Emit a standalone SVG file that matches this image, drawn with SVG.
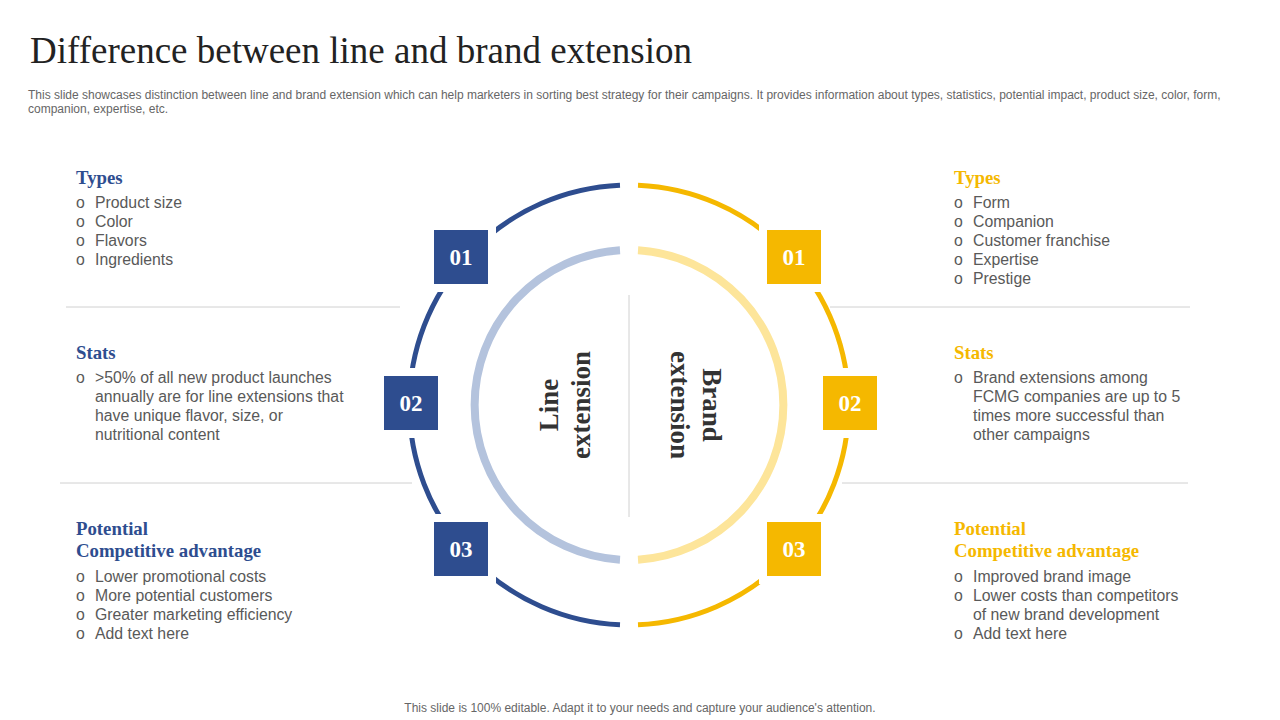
<svg xmlns="http://www.w3.org/2000/svg" width="1280" height="720" viewBox="0 0 1280 720">
<style>
.h{font-family:"Liberation Serif",serif;font-weight:bold;font-size:18.8px}
.b{fill:#2e4d8f}.y{fill:#f5b800}
.t{font-family:"Liberation Sans",Arial,sans-serif;font-size:15.8px;fill:#595959}
.n{font-family:"Liberation Serif",serif;font-weight:bold;font-size:23px;fill:#fff;text-anchor:middle}
.bg{fill:#fff}
.c{font-family:"Liberation Serif",serif;font-weight:bold;font-size:27px;fill:#333;text-anchor:middle}
</style>
<rect width="1280" height="720" fill="#fff"/>
<text x="30" y="63" font-family="Liberation Serif,serif" font-size="37" fill="#222">Difference between line and brand extension</text>
<text font-family="Liberation Sans,Arial,sans-serif" font-size="12" fill="#666"><tspan x="28" y="99">This slide showcases distinction between line and brand extension which can help marketers in sorting best strategy for their campaigns. It provides information about types, statistics, potential impact, product size, color, form,</tspan><tspan x="28" y="113">companion, expertise, etc.</tspan></text>
<g id="connectors" fill="none">
<line x1="66" y1="307" x2="400" y2="307" stroke="#d0d0d0"/>
<line x1="60" y1="483" x2="412" y2="483" stroke="#d0d0d0"/>
<line x1="830" y1="307" x2="1190" y2="307" stroke="#d0d0d0"/>
<line x1="842" y1="483" x2="1188" y2="483" stroke="#d0d0d0"/>
<line x1="629" y1="295" x2="629" y2="517" stroke="#d0d0d0"/>
<path d="M620 185.2 A220 220 0 0 0 620 624.8" stroke="#2e4d8f" stroke-width="5"/>
<path d="M638 185.2 A220 220 0 0 1 638 624.8" stroke="#f5b800" stroke-width="5"/>
<path d="M620 250.3 A155 155 0 0 0 620 559.7" stroke="#b4c3dd" stroke-width="8"/>
<path d="M638 250.3 A155 155 0 0 1 638 559.7" stroke="#fde59a" stroke-width="8"/>
</g>
<g id="center-left"><text class="c" transform="translate(565,405) rotate(-90)"><tspan x="0" y="-7">Line</tspan><tspan x="0" y="25">extension</tspan></text></g>
<g id="center-right"><text class="c" transform="translate(696,405) rotate(90)"><tspan x="0" y="-7">Brand</tspan><tspan x="0" y="25">extension</tspan></text></g>
<g id="b01"><rect class="bg" x="426" y="222" width="70" height="70"/><rect class="b" x="434" y="230" width="54" height="54"/><text class="n" x="461" y="265">01</text></g>
<g id="b02"><rect class="bg" x="376" y="368" width="70" height="70"/><rect class="b" x="384" y="376" width="54" height="54"/><text class="n" x="411" y="411">02</text></g>
<g id="b03"><rect class="bg" x="426" y="514" width="70" height="70"/><rect class="b" x="434" y="522" width="54" height="54"/><text class="n" x="461" y="557">03</text></g>
<g id="y01"><rect class="bg" x="759" y="222" width="70" height="70"/><rect class="y" x="767" y="230" width="54" height="54"/><text class="n" x="794" y="265">01</text></g>
<g id="y02"><rect class="bg" x="815" y="368" width="70" height="70"/><rect class="y" x="823" y="376" width="54" height="54"/><text class="n" x="850" y="411">02</text></g>
<g id="y03"><rect class="bg" x="759" y="514" width="70" height="70"/><rect class="y" x="767" y="522" width="54" height="54"/><text class="n" x="794" y="557">03</text></g>
<g id="left-types"><text class="h b" x="76" y="184">Types</text>
<text class="t"><tspan x="76" y="208">o</tspan><tspan x="95" y="208">Product size</tspan><tspan x="76" y="227">o</tspan><tspan x="95" y="227">Color</tspan><tspan x="76" y="246">o</tspan><tspan x="95" y="246">Flavors</tspan><tspan x="76" y="265">o</tspan><tspan x="95" y="265">Ingredients</tspan></text></g>
<g id="left-stats"><text class="h b" x="76" y="359">Stats</text>
<text class="t"><tspan x="76" y="383">o</tspan><tspan x="95" y="383">&gt;50% of all new product launches</tspan><tspan x="95" y="402">annually  are for line extensions that</tspan><tspan x="95" y="421">have unique flavor, size, or</tspan><tspan x="95" y="440">nutritional content</tspan></text></g>
<g id="left-potential"><text class="h b"><tspan x="76" y="535">Potential</tspan><tspan x="76" y="557">Competitive advantage</tspan></text>
<text class="t"><tspan x="76" y="582">o</tspan><tspan x="95" y="582">Lower promotional costs</tspan><tspan x="76" y="601">o</tspan><tspan x="95" y="601">More potential customers</tspan><tspan x="76" y="620">o</tspan><tspan x="95" y="620">Greater marketing efficiency</tspan><tspan x="76" y="639">o</tspan><tspan x="95" y="639">Add text here</tspan></text></g>
<g id="right-types"><text class="h y" x="954" y="184">Types</text>
<text class="t"><tspan x="954" y="208">o</tspan><tspan x="973" y="208">Form</tspan><tspan x="954" y="227">o</tspan><tspan x="973" y="227">Companion</tspan><tspan x="954" y="246">o</tspan><tspan x="973" y="246">Customer franchise</tspan><tspan x="954" y="265">o</tspan><tspan x="973" y="265">Expertise</tspan><tspan x="954" y="284">o</tspan><tspan x="973" y="284">Prestige</tspan></text></g>
<g id="right-stats"><text class="h y" x="954" y="359">Stats</text>
<text class="t"><tspan x="954" y="383">o</tspan><tspan x="973" y="383">Brand extensions among</tspan><tspan x="973" y="402">FCMG companies are up to 5</tspan><tspan x="973" y="421">times more successful than</tspan><tspan x="973" y="440">other campaigns</tspan></text></g>
<g id="right-potential"><text class="h y"><tspan x="954" y="535">Potential</tspan><tspan x="954" y="557">Competitive advantage</tspan></text>
<text class="t"><tspan x="954" y="582">o</tspan><tspan x="973" y="582">Improved brand image</tspan><tspan x="954" y="601">o</tspan><tspan x="973" y="601">Lower costs than competitors</tspan><tspan x="973" y="620">of new brand development</tspan><tspan x="954" y="639">o</tspan><tspan x="973" y="639">Add text here</tspan></text></g>
<text x="640" y="712" text-anchor="middle" font-family="Liberation Sans,Arial,sans-serif" font-size="12" fill="#666">This slide is 100% editable. Adapt it to your needs and capture your audience's attention.</text>
</svg>
